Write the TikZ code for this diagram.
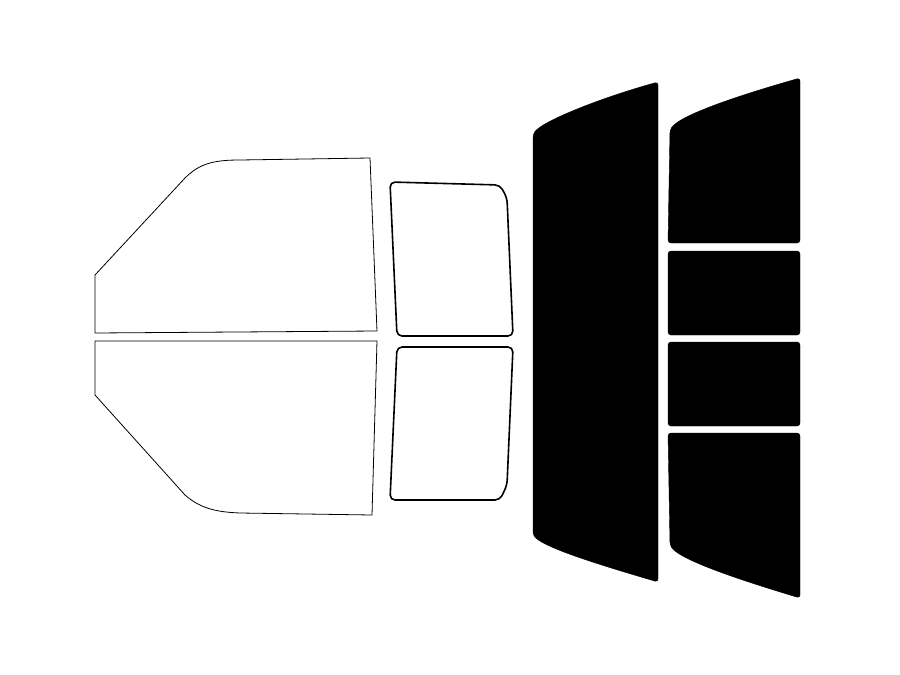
\documentclass[tikz,border=0pt]{standalone}
\begin{document}
\begin{tikzpicture}[x=1pt,y=-1pt,line join=round,
  clear/.style={draw=black,line width=0.8pt,fill=white},
  clearb/.style={draw=black,line width=1.6pt,fill=white},
  tint/.style={draw=black,fill=black,rounded corners=3pt}]
\useasboundingbox (0,0) rectangle (900,675);
% front door windows
\draw[clear] (95,275) -- (185,178) .. controls (200,163) and (215,160) .. (240,160) -- (370,158) -- (377,331) -- (95,333) -- cycle;
\draw[clear] (95,341) -- (377,341) -- (372,515) -- (240,513) .. controls (215,512) and (200,508) .. (185,495) -- (95,395) -- cycle;
% rear door windows
\draw[clearb,rounded corners=5pt] (390,182) -- (500,185) -- (507,198) -- (513,336) -- (397,336) -- cycle;
\draw[clearb,rounded corners=5pt] (397,347) -- (513,347) -- (507,485) -- (500,500) -- (390,500) -- cycle;
% back window
\draw[tint] (533,135) .. controls (540,122) and (600,98) .. (658,82) -- (658,582) .. controls (600,565) and (545,548) .. (533,535) -- cycle;
% right column
\draw[tint] (670,130) .. controls (680,115) and (740,95) .. (800,78) -- (800,243) -- (668,243) -- cycle;
\draw[tint] (668,251) rectangle (800,335);
\draw[tint] (668,342) rectangle (800,426);
\draw[tint] (668,433) -- (800,433) -- (800,598) .. controls (740,580) and (680,560) .. (670,545) -- cycle;
\end{tikzpicture}
\end{document}
